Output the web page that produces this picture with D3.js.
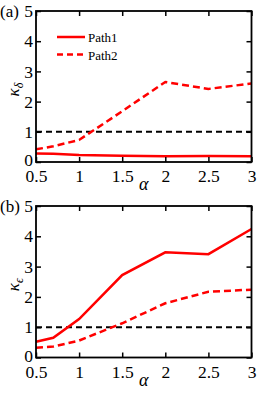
<!DOCTYPE html>
<html><head><meta charset="utf-8">
<script src="https://cdn.jsdelivr.net/npm/d3@7"></script>
<style>body{margin:0;background:#fff}svg{display:block}</style>
</head><body>
<script>
const alphas = [0.5, 0.7, 1, 1.5, 2, 2.5, 3];
const aPath1 = [0.28, 0.27, 0.23, 0.21, 0.19, 0.2, 0.19];
const aPath2 = [0.42, 0.52, 0.73, 1.68, 2.65, 2.42, 2.6];
const bPath1 = [0.52, 0.65, 1.27, 2.72, 3.47, 3.41, 4.24];
const bPath2 = [0.32, 0.36, 0.56, 1.13, 1.79, 2.17, 2.24];
const xTicks = [0.5, 1, 1.5, 2, 2.5, 3];
const yTicks = [0, 1, 2, 3, 4, 5];
const refLine = 1;
const legendNames = ["Path1", "Path2"];

const FONT = "'Liberation Serif', 'Times New Roman', Tinos, Times, serif";
const W = 270, H = 393;
const svg = d3.select("body").append("svg").attr("width", W).attr("height", H)
  .style("font-family", FONT);
const x = d3.scaleLinear().domain([0.5, 3]).range([36, 251.5]);

function panel(top, bottom, p1, p2, label, sub, legend) {
  const y = d3.scaleLinear().domain([0, 5]).range([bottom, top]);
  const g = svg.append("g");
  const line = d3.line().x((d, i) => x(alphas[i])).y(d => y(d));
  g.append("line").attr("x1", x(0.5)).attr("x2", x(3)).attr("y1", y(refLine)).attr("y2", y(refLine))
    .attr("stroke", "#000").attr("stroke-width", 2).attr("stroke-dasharray", "6,4");
  g.append("path").datum(p1).attr("d", line).attr("fill", "none").attr("stroke", "#ff0000").attr("stroke-width", 2.5);
  g.append("path").datum(p2).attr("d", line).attr("fill", "none").attr("stroke", "#ff0000").attr("stroke-width", 2.5).attr("stroke-dasharray", "7,4");
  const tl = 5;
  const styleText = a => a.selectAll("text").style("font-family", FONT).attr("font-size", 17.5).attr("fill", "#000");
  const clean = a => { a.attr("font-family", null).select(".domain").remove(); a.selectAll("line").attr("stroke-width", 1.5); };
  g.append("g").attr("transform", `translate(0,${bottom})`)
    .call(d3.axisBottom(x).tickValues(xTicks).tickSize(-tl).tickPadding(8).tickFormat(d3.format("")))
    .call(a => { clean(a); styleText(a); });
  g.append("g").attr("transform", `translate(0,${top})`)
    .call(d3.axisTop(x).tickValues(xTicks).tickSize(-tl).tickFormat(""))
    .call(clean);
  g.append("g").attr("transform", `translate(${x(0.5)},0)`)
    .call(d3.axisLeft(y).tickValues(yTicks).tickSize(-tl).tickPadding(3).tickFormat(d3.format("")))
    .call(a => { clean(a); styleText(a); a.selectAll(".tick text").filter(d => d === 0).attr("dy", "0.2em"); });
  g.append("g").attr("transform", `translate(${x(3)},0)`)
    .call(d3.axisRight(y).tickValues(yTicks).tickSize(-tl).tickFormat(""))
    .call(clean);
  g.append("rect").attr("x", x(0.5)).attr("y", top).attr("width", x(3) - x(0.5)).attr("height", bottom - top)
    .attr("fill", "none").attr("stroke", "#000").attr("stroke-width", 1.8);
  g.append("text").attr("x", 0).attr("y", top + 6).attr("font-size", 17).text(label);
  g.append("text").attr("x", x(1.75)).attr("y", bottom + 28).attr("text-anchor", "middle")
    .attr("font-size", 18).attr("font-style", "italic").text("α");
  const yl = g.append("text").attr("transform", `translate(19,${(top + bottom) / 2 + 3}) rotate(-90)`)
    .attr("text-anchor", "middle").attr("font-size", 17).attr("font-style", "italic");
  yl.append("tspan").text("κ");
  yl.append("tspan").attr("font-size", 12).attr("dy", 4).text(sub);
  if (legend) {
    legendNames.forEach((n, i) => {
      const ly = top + 26 + i * 17.5;
      g.append("line").attr("x1", 57).attr("x2", 85).attr("y1", ly).attr("y2", ly)
        .attr("stroke", "#ff0000").attr("stroke-width", 2.5).attr("stroke-dasharray", i ? "6,4" : null);
      g.append("text").attr("x", 88).attr("y", ly + 5).attr("font-size", 13).text(n);
    });
  }
}
panel(11, 162, aPath1, aPath2, "(a)", "δ", true);
panel(206, 357.5, bPath1, bPath2, "(b)", "ϵ", false);
</script>
</body></html>
